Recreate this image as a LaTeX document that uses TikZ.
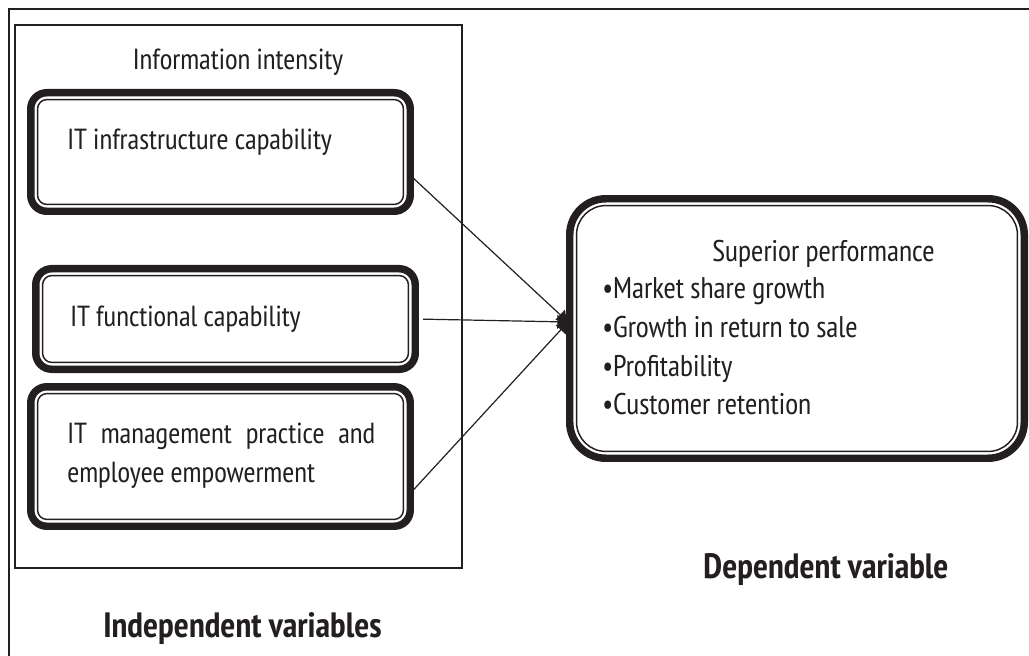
\documentclass[tikz,border=0pt]{standalone}
\usepackage{fontspec}
\setmainfont{PT Sans Narrow}
\usepackage{xcolor}
\usepackage{tikz}
\usetikzlibrary{positioning, arrows.meta, calc}
\definecolor{ink}{HTML}{231F20}

\tikzset{
  capbox/.style={draw=ink, line width=5.6pt, rounded corners=12pt, outer sep=0pt,
    inner sep=0pt, minimum width=284.6pt},
  boxtext/.style={text=ink, inner sep=0pt, anchor=base west,
    font=\fontsize{21.8}{29.25}\selectfont},
  perftext/.style={text=ink, inner sep=0pt, font=\fontsize{22.4}{28.9}\selectfont},
  headtext/.style={text=ink, inner sep=0pt, anchor=base,
    font=\fontsize{26.4}{30}\selectfont\bfseries},
  link/.style={draw=ink, line width=0.9pt, -{Latex[length=8pt, width=11pt]}}
}

\begin{document}
\begin{tikzpicture}[x=0.75pt, y=-0.75pt]
  \useasboundingbox (0,0) rectangle (1029,656);
  % frame and the group around the three capabilities
  \draw[ink, line width=1.5pt] (9,656) -- (9,9) -- (1029,9);
  \draw[ink, line width=1.1pt] (15,25) rectangle (462,568);
  \node[boxtext, anchor=base] (intensity) at (238,70) {Information intensity};

  % capability boxes
  \node[capbox, minimum height=88.9pt] (infra) at (220.5,152) {};
  \node[capbox, minimum height=75.4pt] (func) at (225.5,319) {};
  \node[capbox, minimum height=104.6pt] (mgmt) at (220.5,456.5) {};
  \node[capbox, minimum width=340.9pt, minimum height=194.6pt, rounded corners=27pt]
    (perf) at (797,328.5) {};

  % thin inner rims
  \foreach \b/\r in {infra/7pt, func/7pt, mgmt/7pt, perf/22pt}
    \draw[ink, line width=1.1pt, rounded corners=\r]
      ([shift={(5.1pt,5.1pt)}]\b.south west) rectangle ([shift={(-5.1pt,-5.1pt)}]\b.north east);

  \node[boxtext] (infratext) at (67,150) {IT infrastructure capability};
  \node[boxtext] (functext) at (70,326) {IT functional capability};
  \node[boxtext, text width=231pt, align=justify] (mgmttext) at (67,443)
    {IT management practice and\linebreak employee empowerment};

  \node[perftext, anchor=base] (perftitle) at (823.5,262) {Superior performance};
  \foreach \t [count=\i from 0] in {Market share growth, Growth in return to sale,
      Profitability, Customer retention}
    \node[perftext, anchor=base west] (perfitem\i) at (602,299+38.5*\i) {\textbullet\t};

  % connectors meet on the left side of the performance box
  \coordinate (hub) at (568,322);
  \draw[link] (infra.-7.5) -- (hub);
  \draw[link, shorten <=6pt] (func.east) -- (hub);
  \draw[link] (mgmt.-11.5) -- (hub);

  \node[headtext] (depvar) at (826,578) {Dependent variable};
  \node[headtext] (indepvar) at (242.5,637) {Independent variables};
\end{tikzpicture}
\end{document}
